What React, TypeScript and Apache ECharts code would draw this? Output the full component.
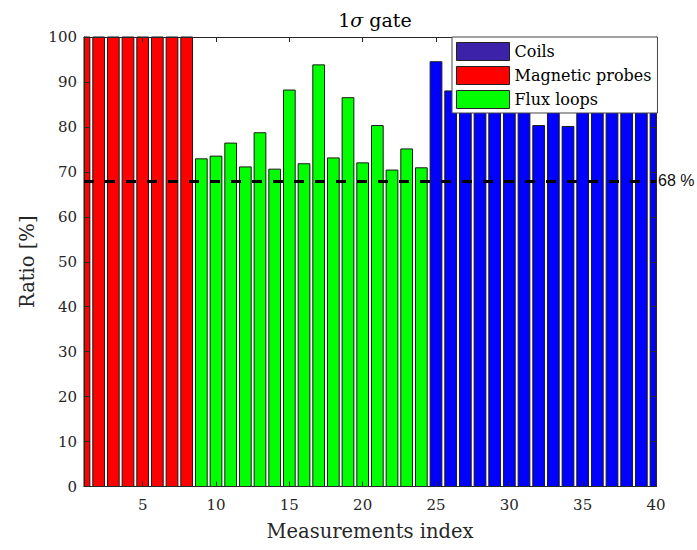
import React, { useEffect, useRef } from "react";
import * as echarts from "echarts";

const probeIdx = [1, 2, 3, 4, 5, 6, 7, 8];
const probeVals = [100, 100, 100, 100, 100, 100, 100, 100];
const fluxIdx = [9, 10, 11, 12, 13, 14, 15, 16, 17, 18, 19, 20, 21, 22, 23, 24];
const fluxVals = [72.9, 73.5, 76.4, 71.1, 78.7, 70.6, 88.2, 71.8, 93.8, 73.1, 86.5, 72.0, 80.3, 70.4, 75.1, 70.9];
const coilIdx = [25, 26, 27, 28, 29, 30, 31, 32, 33, 34, 35, 36, 37, 38, 39, 40];
const coilVals = [94.5, 88.0, 95, 92, 98, 96, 94, 80.3, 93, 80.1, 96, 97, 99, 95, 97, 98];
const xTicks = [5, 10, 15, 20, 25, 30, 35, 40];
const threshold = 68;
const seriesNames = ["Coils", "Magnetic probes", "Flux loops"];

const SERIF = "'DejaVu Serif', 'Liberation Serif', serif";
const AXC = "#262626";
const BAR_W = 0.8;

function pairs(idx: number[], vals: number[]) {
  return idx.map((x, i) => [x, vals[i]]);
}

function makeRender(fill: string) {
  return (params: any, api: any) => {
    const x = api.value(0);
    const y = api.value(1);
    const p0 = api.coord([x - BAR_W / 2, y]);
    const p1 = api.coord([x + BAR_W / 2, 0]);
    const cs = params.coordSys;
    const shape = echarts.graphic.clipRectByRect(
      { x: p0[0], y: p0[1], width: p1[0] - p0[0], height: p1[1] - p0[1] },
      { x: cs.x, y: cs.y, width: cs.width, height: cs.height }
    );
    if (!shape) return null;
    return {
      type: "rect",
      shape,
      style: { fill, stroke: "#1a1a1a", lineWidth: 1 },
    };
  };
}

export default function App() {
  const ref = useRef<HTMLDivElement>(null);
  useEffect(() => {
    if (!ref.current) return;
    const chart = echarts.init(ref.current, null, { renderer: "svg" });
    const xCommon = {
      type: "value" as const,
      min: 1,
      max: 40,
      z: 6,
      splitLine: { show: false },
      axisLine: { show: true, onZero: false, lineStyle: { color: AXC, width: 1 } },
      axisTick: { show: true, inside: true, length: 5, customValues: xTicks, lineStyle: { color: AXC } },
    };
    const yCommon = {
      type: "value" as const,
      min: 0,
      max: 100,
      interval: 10,
      z: 6,
      splitLine: { show: false },
      axisLine: { show: true, onZero: false, lineStyle: { color: AXC, width: 1 } },
      axisTick: { show: true, inside: true, length: 5, lineStyle: { color: AXC } },
    };
    const series = [
      { name: seriesNames[0], color: "#0000ff", idx: coilIdx, vals: coilVals },
      { name: seriesNames[1], color: "#ff0000", idx: probeIdx, vals: probeVals },
      { name: seriesNames[2], color: "#00ff00", idx: fluxIdx, vals: fluxVals },
    ].map((s) => ({
      type: "custom" as const,
      name: s.name,
      renderItem: makeRender(s.color),
      itemStyle: { color: s.color },
      encode: { x: 0, y: 1 },
      data: pairs(s.idx, s.vals),
    }));
    (series[2] as any).markLine = {
      silent: true,
      symbol: ["none", "none"],
      z: 7,
      lineStyle: { color: "#000", width: 3, type: [10, 11] },
      label: {
        show: true,
        position: "end",
        formatter: "68 %",
        distance: 2,
        fontFamily: "'Liberation Sans', Arial, sans-serif",
        fontSize: 16,
        color: "#111",
      },
      data: [{ yAxis: threshold }],
    };
    chart.setOption({
      animation: false,
      backgroundColor: "#ffffff",
      title: {
        text: "1{i|σ} gate",
        left: 370,
        top: 5,
        textAlign: "center",
        textStyle: {
          fontFamily: SERIF,
          fontWeight: "normal",
          fontSize: 19,
          color: "#000",
          rich: { i: { fontFamily: SERIF, fontStyle: "italic", fontSize: 19, color: "#000" } },
        },
      },
      grid: { left: 84, right: 41, top: 37, bottom: 63.5, containLabel: false },
      legend: {
        orient: "vertical",
        left: 452,
        top: 37,
        padding: [5, 6, 4, 4],
        itemGap: 5,
        itemWidth: 53,
        itemHeight: 18,
        backgroundColor: "#ffffff",
        borderColor: "#444",
        borderWidth: 1,
        borderRadius: 0,
        icon: "rect",
        z: 8,
        textStyle: { fontFamily: SERIF, fontSize: 16, color: "#000" },
        data: [
          { name: seriesNames[0], itemStyle: { color: "#3b22a8", borderColor: "#222", borderWidth: 1 } },
          { name: seriesNames[1], itemStyle: { color: "#ff0000", borderColor: "#222", borderWidth: 1 } },
          { name: seriesNames[2], itemStyle: { color: "#00ff00", borderColor: "#222", borderWidth: 1 } },
        ],
      },
      xAxis: [
        {
          ...xCommon,
          position: "bottom",
          name: "Measurements index",
          nameLocation: "middle",
          nameGap: 35,
          nameTextStyle: { fontFamily: SERIF, fontSize: 19.5, color: AXC, verticalAlign: "top" },
          axisLabel: {
            show: true,
            customValues: xTicks,
            fontFamily: SERIF,
            fontSize: 15,
            color: AXC,
            margin: 11,
          },
        },
        {
          ...xCommon,
          position: "top",
          axisLabel: { show: false },
        },
      ],
      yAxis: [
        {
          ...yCommon,
          position: "left",
          name: "Ratio [%]",
          nameLocation: "middle",
          nameGap: 47,
          nameTextStyle: { fontFamily: SERIF, fontSize: 19.5, color: AXC },
          axisLabel: { show: true, fontFamily: SERIF, fontSize: 15, color: AXC, margin: 7 },
        },
        {
          ...yCommon,
          position: "right",
          axisLabel: { show: false },
        },
      ],
      series,
    });
    return () => chart.dispose();
  }, []);
  return (
    <div
      ref={ref}
      style={{ position: "fixed", left: 0, top: 0, width: 697, height: 550 }}
    />
  );
}
